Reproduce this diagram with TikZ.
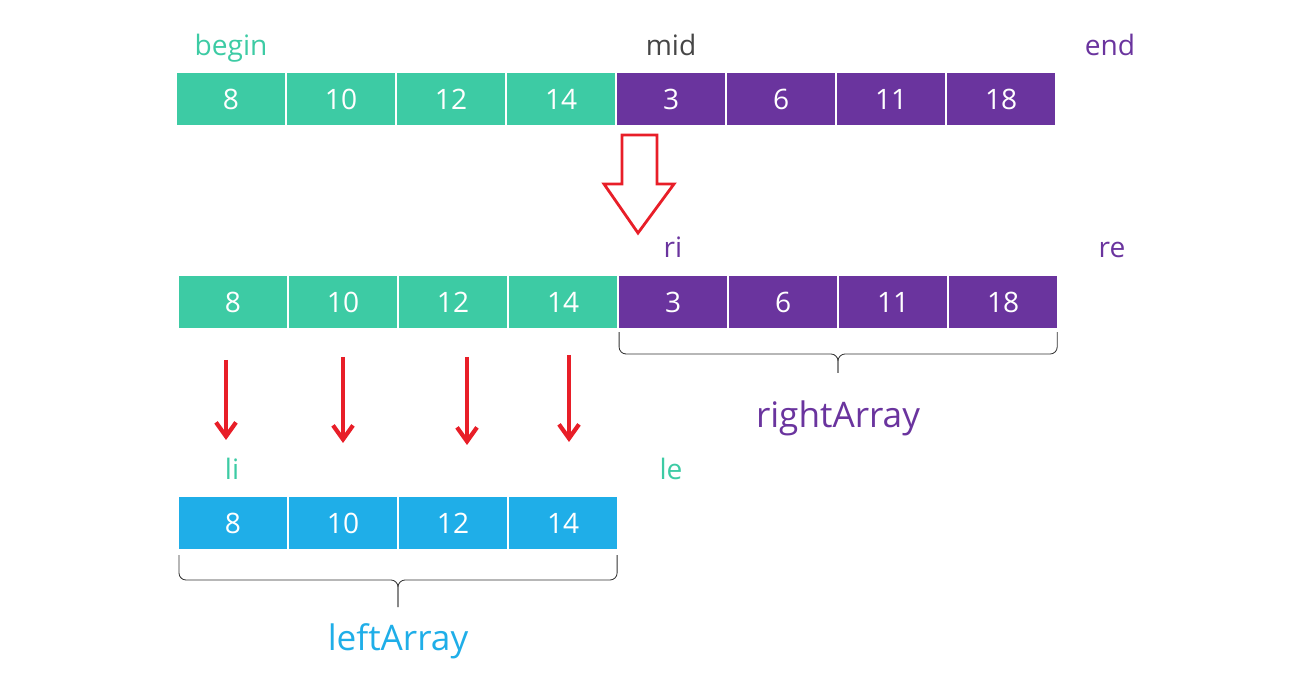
\documentclass[tikz,border=0pt]{standalone}
\usepackage{fontspec}
\setmainfont{Open Sans}
\usetikzlibrary{arrows.meta, positioning}
\definecolor{cellgreen}{RGB}{61,203,164}
\definecolor{cellpurple}{RGB}{106,52,158}
\definecolor{cellblue}{RGB}{31,174,232}
\definecolor{arrowred}{RGB}{232,30,40}
\definecolor{midgray}{RGB}{70,70,70}

\begin{document}
\begin{tikzpicture}[x=0.025cm, y=-0.025cm,
    node distance=0.05cm,
    cell/.style={rectangle, minimum width=2.7cm, minimum height=1.3cm,
      inner sep=0pt, outer sep=0pt, text=white, font=\fontsize{20}{24}\selectfont},
    grn/.style={cell, fill=cellgreen},
    prp/.style={cell, fill=cellpurple},
    blu/.style={cell, fill=cellblue},
    lbl/.style={anchor=base, inner sep=0pt, font=\fontsize{20}{24}\selectfont},
    big/.style={anchor=base, inner sep=0pt, font=\fontsize{25}{30}\selectfont},
    darr/.style={-{Straight Barb[length=3.5mm, width=5mm]}, arrowred, line width=3pt},
    brc/.style={rounded corners=5pt, line width=0.6pt, black!80}]
    \useasboundingbox (0,0) rectangle (1305,675);
    % whole array
    \node[grn] (a1) at (231,99) {8};
    \node[grn, right=of a1] (a2) {10};
    \node[grn, right=of a2] (a3) {12};
    \node[grn, right=of a3] (a4) {14};
    \node[prp, right=of a4] (a5) {3};
    \node[prp, right=of a5] (a6) {6};
    \node[prp, right=of a6] (a7) {11};
    \node[prp, right=of a7] (a8) {18};
    \node[lbl, text=cellgreen] (begin) at (231,56) {begin};
    \node[lbl, text=midgray] (mid) at (671,56) {mid};
    \node[lbl, text=cellpurple] (end) at (1110,56) {end};
    % split
    \draw[arrowred, line width=2pt, line join=miter]
      (622,135) -- (657,135) -- (657,184) -- (674,184) -- (638,233)
      -- (604,184) -- (622,184) -- cycle;
    % array after split
    \node[grn] (b1) at (233,302) {8};
    \node[grn, right=of b1] (b2) {10};
    \node[grn, right=of b2] (b3) {12};
    \node[grn, right=of b3] (b4) {14};
    \node[prp, right=of b4] (b5) {3};
    \node[prp, right=of b5] (b6) {6};
    \node[prp, right=of b6] (b7) {11};
    \node[prp, right=of b7] (b8) {18};
    \node[lbl, text=cellpurple] (ri) at (673,258) {ri};
    \node[lbl, text=cellpurple] (re) at (1112,258) {re};
    \coordinate (rtip) at (838,373);
    \draw[brc] ([yshift=-0.1cm]b5.south west) -- ++(0,22) -| (rtip);
    \draw[brc] ([yshift=-0.1cm]b8.south east) -- ++(0,22) -| (rtip);
    \node[big, text=cellpurple] (rarr) at (838,428) {rightArray};
    % copy to left array
    \coordinate (t1) at (226,360); \coordinate (h1) at (226,440);
    \coordinate (t2) at (343,357); \coordinate (h2) at (343,443);
    \coordinate (t3) at (467,357); \coordinate (h3) at (467,445);
    \coordinate (t4) at (569,355); \coordinate (h4) at (569,442);
    \draw[darr] (t1) -- (h1);
    \draw[darr] (t2) -- (h2);
    \draw[darr] (t3) -- (h3);
    \draw[darr] (t4) -- (h4);
    \node[blu] (c1) at (233,523) {8};
    \node[blu, right=of c1] (c2) {10};
    \node[blu, right=of c2] (c3) {12};
    \node[blu, right=of c3] (c4) {14};
    \node[lbl, text=cellgreen] (li) at (232,480) {li};
    \node[lbl, text=cellgreen] (le) at (671,480) {le};
    \coordinate (ltip) at (398,607);
    \draw[brc] ([yshift=-0.15cm]c1.south west) -- ++(0,25) -| (ltip);
    \draw[brc] ([yshift=-0.15cm]c4.south east) -- ++(0,25) -| (ltip);
    \node[big, text=cellblue] (larr) at (398,650) {leftArray};
  \end{tikzpicture}
\end{document}
